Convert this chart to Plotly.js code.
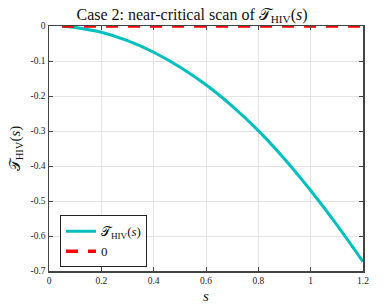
<!DOCTYPE html>
<html><head><meta charset="utf-8">
<script src="https://cdn.plot.ly/plotly-3.0.1.min.js"></script>
<style>html,body{margin:0;padding:0;background:#fff}#c{width:384px;height:308px}</style>
</head><body><div id="c"></div>
<script>
const sVals = [0.05, 0.1, 0.2, 0.3, 0.4, 0.5, 0.6, 0.7, 0.8, 0.9, 1.0, 1.1, 1.2];
const tVals = [0, -0.004, -0.018, -0.042, -0.075, -0.117, -0.168, -0.229, -0.299, -0.38, -0.47, -0.568, -0.673];
const zeroS = [0.05, 1.2];
const zeroVals = [0, 0];
const xTicks = [0, 0.2, 0.4, 0.6, 0.8, 1, 1.2];
const xTickText = ['0', '0.2', '0.4', '0.6', '0.8', '1', '1.2'];
const yTicks = [0, -0.1, -0.2, -0.3, -0.4, -0.5, -0.6, -0.7];
const yTickText = ['0', '-0.1', '-0.2', '-0.3', '-0.4', '-0.5', '-0.6', '-0.7'];

const F = 'Liberation Serif, DejaVu Serif, serif';
const traces = [
  {x: sVals, y: tVals, mode: 'lines', line: {color: 'rgb(0,191,191)', width: 3, shape: 'spline', smoothing: 1},
   name: '𝒯<sub>HIV</sub>(<i>s</i>)'},
  {x: zeroS, y: zeroVals, mode: 'lines', line: {color: 'rgb(255,0,0)', width: 3.5, dash: '12px,10px'},
   name: '0'}
];
const axBase = {showline: true, linecolor: '#444', linewidth: 1.5, mirror: 'ticks', ticks: 'inside',
  ticklen: 4, tickcolor: '#444', showgrid: true, gridcolor: '#e3e3e3', gridwidth: 1, zeroline: false,
  tickfont: {family: F, size: 9.5, color: '#222'}};
const layout = {
  width: 384, height: 308,
  margin: {l: 49, r: 21, t: 26, b: 37},
  paper_bgcolor: '#fff', plot_bgcolor: '#fff',
  title: {text: 'Case 2: near-critical scan of 𝒯<sub>HIV</sub>(<i>s</i>)', font: {family: F, size: 16, color: '#111'},
    x: 0.5, xanchor: 'center', y: 0.972, yanchor: 'top'},
  xaxis: Object.assign({}, axBase, {range: [0, 1.2], tickvals: xTicks, ticktext: xTickText,
    title: {text: '<i>s</i>', font: {family: F, size: 15, color: '#111'}, standoff: 5}}),
  yaxis: Object.assign({}, axBase, {range: [-0.7, 0], tickvals: yTicks, ticktext: yTickText,
    title: {text: '𝒯<sub>HIV</sub>(<i>s</i>)', font: {family: F, size: 15, color: '#111'}, standoff: 6}}),
  showlegend: true,
  legend: {x: 0.035, y: 0.015, xanchor: 'left', yanchor: 'bottom', bgcolor: '#fff', bordercolor: '#222',
    borderwidth: 1, font: {family: F, size: 13, color: '#111'}, tracegroupgap: 0, itemwidth: 30}
};
Plotly.newPlot('c', traces, layout, {displayModeBar: false, staticPlot: true});
</script></body></html>
